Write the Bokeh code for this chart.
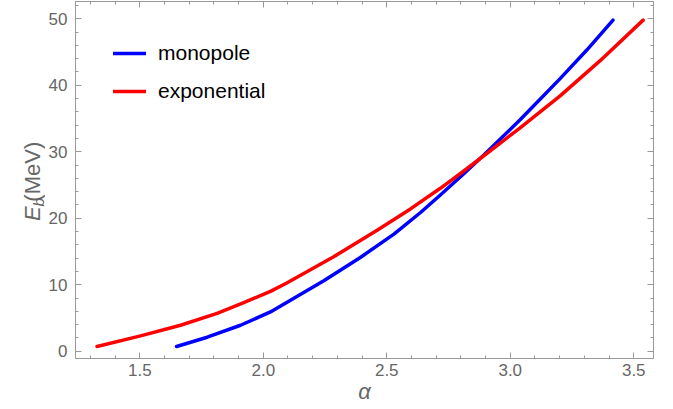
import math
from bokeh.plotting import figure
from bokeh.layouts import row
from bokeh.models import (LinearAxis, Range1d, Legend, LegendItem,
                          SingleIntervalTicker, NumeralTickFormatter)
from bokeh.core.properties import value
from bokeh.embed import file_html
from bokeh.resources import INLINE

# ---- data ----
mono_alpha = [1.649, 1.773, 1.908, 2.029, 2.245, 2.393, 2.529, 2.638, 2.717,
              2.812, 2.893, 3.04, 3.202, 3.31, 3.416]
mono_eb = [0.7, 2.1, 3.9, 5.9, 10.6, 14.1, 17.6, 20.9, 23.5,
           26.7, 29.5, 34.8, 41.0, 45.3, 49.8]

expo_alpha = [1.327, 1.503, 1.665, 1.813, 1.921, 2.029, 2.097, 2.285, 2.461,
              2.596, 2.717, 2.812, 2.893, 3.04, 3.202, 3.364, 3.538]
expo_eb = [0.7, 2.3, 3.9, 5.7, 7.3, 9.0, 10.3, 14.2, 18.2,
           21.4, 24.5, 27.1, 29.4, 33.6, 38.4, 43.7, 49.8]

series_names = ["monopole", "exponential"]
series_colors = ["#0000ff", "#ff0000"]
x_label = "α"
y_label_parts = ["E", "b", "(MeV)"]

FRAME = "#9a9a9a"
TXT = "#666666"
FONT = "Liberation Sans"

LEFT_W = 45
MAIN_W = 620
H = 409

p = figure(width=MAIN_W, height=H, output_backend="svg", toolbar_location=None,
           x_range=Range1d(1.2397, 3.58), y_range=Range1d(-1.1, 52.6),
           min_border_left=30, min_border_right=12, min_border_top=1,
           min_border_bottom=51, x_axis_location=None, y_axis_location=None)
p.grid.visible = False
p.outline_line_color = FRAME
p.border_fill_color = "white"


def mk_axis(kind, labels):
    if kind == "x":
        t = SingleIntervalTicker(interval=0.5, num_minor_ticks=5)
        f = NumeralTickFormatter(format="0.0")
    else:
        t = SingleIntervalTicker(interval=10, num_minor_ticks=5)
        f = NumeralTickFormatter(format="0")
    ax = LinearAxis(ticker=t, formatter=f)
    ax.axis_line_color = FRAME
    ax.major_tick_line_color = FRAME
    ax.minor_tick_line_color = FRAME
    ax.major_tick_in = 6
    ax.major_tick_out = 0
    ax.minor_tick_in = 3
    ax.minor_tick_out = 0
    if labels:
        ax.major_label_text_font = FONT
        ax.major_label_text_font_size = "17px"
        ax.major_label_text_color = TXT
        ax.major_label_standoff = 8 if kind == "y" else 5
    else:
        ax.major_label_text_font_size = "0px"
        ax.major_label_text_color = None
        ax.major_label_standoff = 0
    return ax


xax = mk_axis("x", True)
xax.axis_label = x_label
xax.axis_label_text_font = FONT
xax.axis_label_text_font_style = "italic"
xax.axis_label_text_font_size = "22px"
xax.axis_label_text_color = TXT
xax.axis_label_standoff = 0
p.add_layout(xax, "below")
p.add_layout(mk_axis("y", True), "left")
p.add_layout(mk_axis("x", False), "above")
p.add_layout(mk_axis("y", False), "right")

r1 = p.line(mono_alpha, mono_eb, line_color=series_colors[0], line_width=3.5,
            line_join="round", line_cap="round")
r2 = p.line(expo_alpha, expo_eb, line_color=series_colors[1], line_width=3.5,
            line_join="round", line_cap="round")

leg = Legend(items=[LegendItem(label=series_names[0], renderers=[r1]),
                    LegendItem(label=series_names[1], renderers=[r2])],
             location=(38, 255), margin=0, padding=0, spacing=14,
             glyph_width=33, glyph_height=20, label_height=20,
             label_standoff=12, label_text_font=FONT,
             label_text_font_size="21px", label_text_color="black",
             border_line_color=None, background_fill_alpha=0)
p.add_layout(leg)

# left strip: rotated y-axis label, centre-anchored (empirical vertical correction)
yl = figure(width=LEFT_W, height=H, output_backend="svg", toolbar_location=None,
            x_range=Range1d(0, LEFT_W), y_range=Range1d(0, H),
            min_border=0, x_axis_location=None, y_axis_location=None)
yl.grid.visible = False
yl.outline_line_color = None
DY = 27

yl.text(x=[32], y=[H - 216 - DY], text=[y_label_parts[0]], angle=math.pi / 2,
        text_font=value(FONT), text_font_style="italic", text_font_size="22px",
        text_color=TXT, text_align="center", text_baseline="middle")
yl.text(x=[37.5], y=[H - 203 - DY], text=[y_label_parts[1]], angle=math.pi / 2,
        text_font=value(FONT), text_font_style="italic", text_font_size="15px",
        text_color=TXT, text_align="center", text_baseline="middle")
yl.text(x=[32], y=[H - 168 - DY], text=[y_label_parts[2]], angle=math.pi / 2,
        text_font=value(FONT), text_font_size="22px",
        text_color=TXT, text_align="center", text_baseline="middle")

layout = row(yl, p, spacing=0)

open("out.html", "w").write(file_html(layout, INLINE))
